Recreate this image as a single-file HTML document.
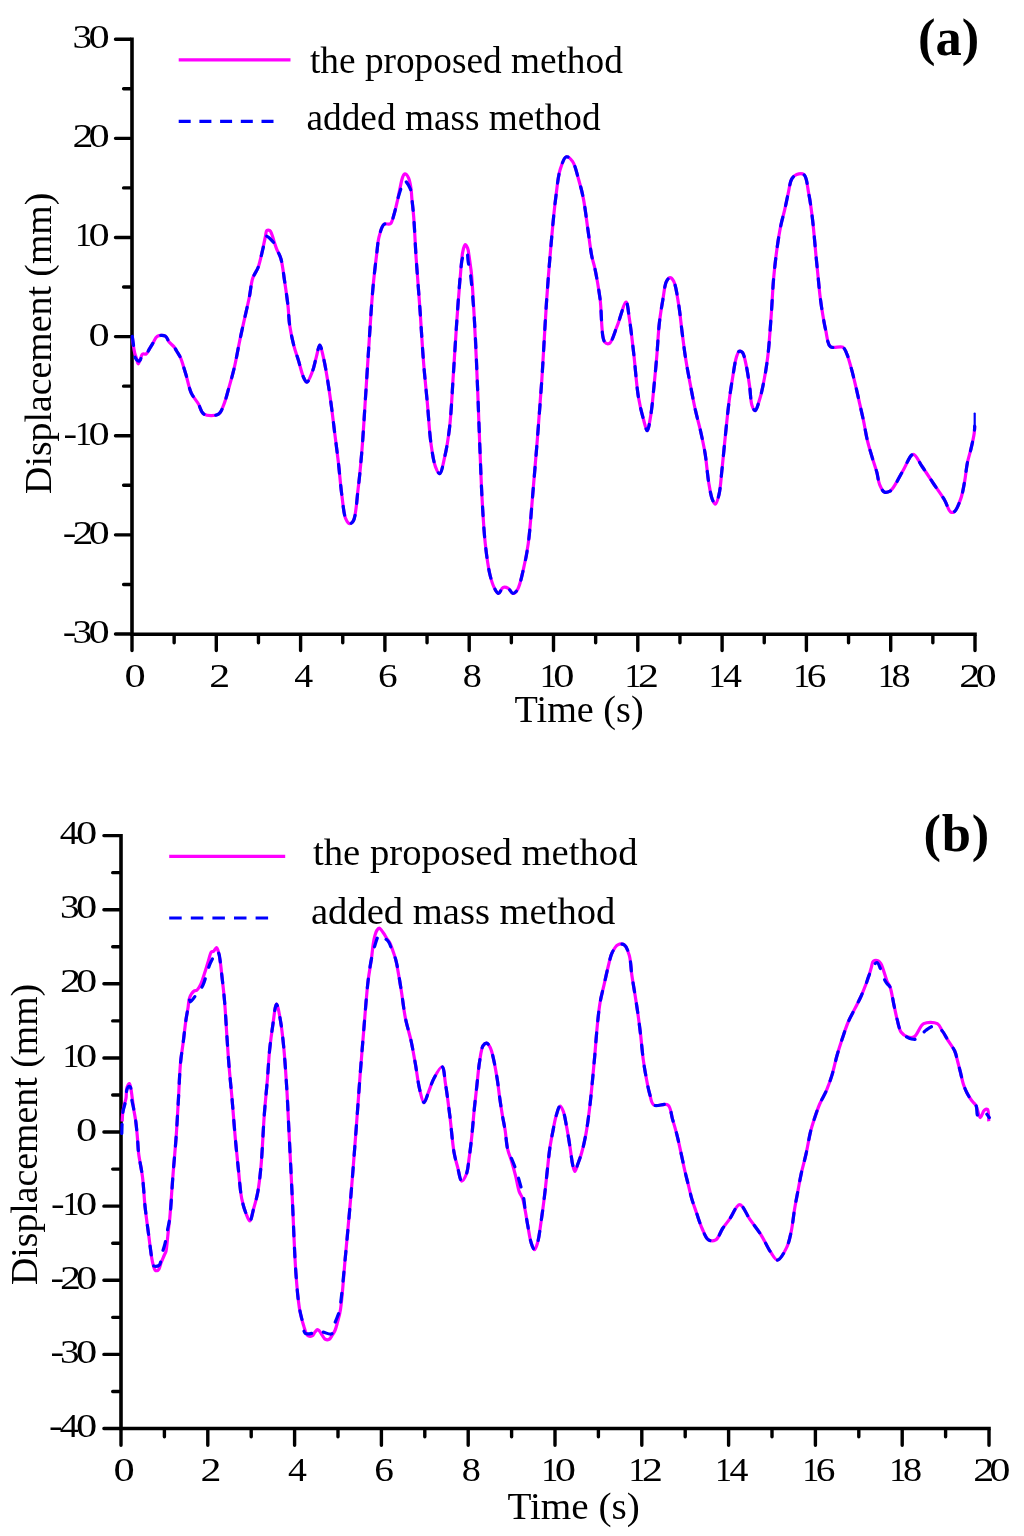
<!DOCTYPE html>
<html><head><meta charset="utf-8"><style>html,body{margin:0;padding:0;background:#fff;}svg{display:block;will-change:transform;}</style></head>
<body><svg width="1024" height="1536" viewBox="0 0 1024 1536">
<rect width="1024" height="1536" fill="#fff"/>
<line x1="132.0" y1="37.4" x2="132.0" y2="636.0" stroke="#000" stroke-width="3.6"/>
<line x1="132.0" y1="634.2" x2="976.8" y2="634.2" stroke="#000" stroke-width="3.6"/>
<path d="M115.50 39.21H130.30M115.50 138.34H130.30M115.50 237.47H130.30M115.50 336.60H130.30M115.50 435.73H130.30M115.50 534.86H130.30M115.50 633.99H130.30M123.60 88.78H130.30M123.60 187.91H130.30M123.60 287.04H130.30M123.60 386.17H130.30M123.60 485.30H130.30M123.60 584.43H130.30M132.00 635.90V650.60M174.15 635.90V642.80M216.30 635.90V650.60M258.45 635.90V642.80M300.60 635.90V650.60M342.75 635.90V642.80M384.90 635.90V650.60M427.05 635.90V642.80M469.20 635.90V650.60M511.35 635.90V642.80M553.50 635.90V650.60M595.65 635.90V642.80M637.80 635.90V650.60M679.95 635.90V642.80M722.10 635.90V650.60M764.25 635.90V642.80M806.40 635.90V650.60M848.55 635.90V642.80M890.70 635.90V650.60M932.85 635.90V642.80M975.00 635.90V650.60" stroke="#000" stroke-width="3.4" stroke-linecap="round" fill="none"/>
<text transform="translate(72.42,48.21) scale(1.1742,1)" font-family="'Liberation Serif', serif" font-size="33.4">3</text>
<text transform="translate(88.48,48.21) scale(1.2716,1)" font-family="'Liberation Serif', serif" font-size="33.4">0</text>
<text transform="translate(72.46,147.34) scale(1.2547,1)" font-family="'Liberation Serif', serif" font-size="33.4">2</text>
<text transform="translate(88.48,147.34) scale(1.2716,1)" font-family="'Liberation Serif', serif" font-size="33.4">0</text>
<text transform="translate(74.90,246.47) scale(1.0205,1)" font-family="'Liberation Serif', serif" font-size="33.4">1</text>
<text transform="translate(88.48,246.47) scale(1.2716,1)" font-family="'Liberation Serif', serif" font-size="33.4">0</text>
<text transform="translate(88.48,345.60) scale(1.2716,1)" font-family="'Liberation Serif', serif" font-size="33.4">0</text>
<text transform="translate(63.39,444.73) scale(1.2217,1)" font-family="'Liberation Serif', serif" font-size="33.4">-</text>
<text transform="translate(74.90,444.73) scale(1.0205,1)" font-family="'Liberation Serif', serif" font-size="33.4">1</text>
<text transform="translate(88.48,444.73) scale(1.2716,1)" font-family="'Liberation Serif', serif" font-size="33.4">0</text>
<text transform="translate(62.79,543.86) scale(1.2217,1)" font-family="'Liberation Serif', serif" font-size="33.4">-</text>
<text transform="translate(72.46,543.86) scale(1.2547,1)" font-family="'Liberation Serif', serif" font-size="33.4">2</text>
<text transform="translate(88.48,543.86) scale(1.2716,1)" font-family="'Liberation Serif', serif" font-size="33.4">0</text>
<text transform="translate(62.79,642.99) scale(1.2217,1)" font-family="'Liberation Serif', serif" font-size="33.4">-</text>
<text transform="translate(72.42,642.99) scale(1.1742,1)" font-family="'Liberation Serif', serif" font-size="33.4">3</text>
<text transform="translate(88.48,642.99) scale(1.2716,1)" font-family="'Liberation Serif', serif" font-size="33.4">0</text>
<text transform="translate(124.48,687.00) scale(1.2716,1)" font-family="'Liberation Serif', serif" font-size="33.4">0</text>
<text transform="translate(209.16,687.00) scale(1.2547,1)" font-family="'Liberation Serif', serif" font-size="33.4">2</text>
<text transform="translate(294.16,687.00) scale(1.1336,1)" font-family="'Liberation Serif', serif" font-size="33.4">4</text>
<text transform="translate(377.91,687.00) scale(1.1773,1)" font-family="'Liberation Serif', serif" font-size="33.4">6</text>
<text transform="translate(462.74,687.00) scale(1.1444,1)" font-family="'Liberation Serif', serif" font-size="33.4">8</text>
<text transform="translate(539.70,687.00) scale(1.0205,1)" font-family="'Liberation Serif', serif" font-size="33.4">1</text>
<text transform="translate(553.28,687.00) scale(1.2716,1)" font-family="'Liberation Serif', serif" font-size="33.4">0</text>
<text transform="translate(624.60,687.00) scale(1.0205,1)" font-family="'Liberation Serif', serif" font-size="33.4">1</text>
<text transform="translate(637.96,687.00) scale(1.2547,1)" font-family="'Liberation Serif', serif" font-size="33.4">2</text>
<text transform="translate(708.50,687.00) scale(1.0205,1)" font-family="'Liberation Serif', serif" font-size="33.4">1</text>
<text transform="translate(722.96,687.00) scale(1.1336,1)" font-family="'Liberation Serif', serif" font-size="33.4">4</text>
<text transform="translate(793.20,687.00) scale(1.0205,1)" font-family="'Liberation Serif', serif" font-size="33.4">1</text>
<text transform="translate(806.71,687.00) scale(1.1773,1)" font-family="'Liberation Serif', serif" font-size="33.4">6</text>
<text transform="translate(877.80,687.00) scale(1.0205,1)" font-family="'Liberation Serif', serif" font-size="33.4">1</text>
<text transform="translate(891.54,687.00) scale(1.1444,1)" font-family="'Liberation Serif', serif" font-size="33.4">8</text>
<text transform="translate(959.36,687.00) scale(1.2547,1)" font-family="'Liberation Serif', serif" font-size="33.4">2</text>
<text transform="translate(975.38,687.00) scale(1.2716,1)" font-family="'Liberation Serif', serif" font-size="33.4">0</text>
<text x="579.1" y="722" text-anchor="middle" font-family="'Liberation Serif', serif" font-size="38.2">Time (s)</text>
<text transform="translate(50.7,343.3) rotate(-90)" text-anchor="middle" font-family="'Liberation Serif', serif" font-size="37.8">Displacement (mm)</text>
<line x1="178.7" y1="59.8" x2="290.5" y2="59.8" stroke="#f0f" stroke-width="3.2"/>
<line x1="178.7" y1="121.4" x2="275" y2="121.4" stroke="#00f" stroke-width="3.2" stroke-dasharray="12 8.7"/>
<text x="310" y="72.6" font-family="'Liberation Serif', serif" font-size="37.3">the proposed method</text>
<text x="306.5" y="130.3" font-family="'Liberation Serif', serif" font-size="37.3">added mass method</text>
<text x="948.6" y="54.8" text-anchor="middle" font-family="'Liberation Serif', serif" font-size="52.5" font-weight="bold">(a)</text>
<path d="M132.30,336.40C132.45,337.77 132.80,341.87 133.20,344.60C133.60,347.34 134.09,350.38 134.70,352.80C135.20,354.78 135.83,356.29 136.40,358.10C137.00,359.99 137.50,363.86 138.20,363.90C138.88,363.94 139.75,360.39 140.50,358.70C141.21,357.09 141.51,354.71 142.60,354.00C143.50,353.42 145.06,354.56 146.10,354.00C147.50,353.25 148.45,350.53 149.60,348.70C150.79,346.80 151.87,344.80 153.10,342.80C154.40,340.70 155.21,337.53 157.20,336.40C159.26,335.22 163.42,335.05 165.40,336.10C167.17,337.04 167.50,339.93 168.90,341.70C170.40,343.58 172.85,345.28 174.20,347.00C175.26,348.36 175.70,349.47 176.60,351.00C177.79,353.03 179.56,355.54 180.70,358.10C181.92,360.82 182.69,364.05 183.60,366.90C184.45,369.57 185.06,371.55 186.00,374.70C187.44,379.53 188.93,387.96 191.30,393.10C193.23,397.29 196.17,400.12 198.30,403.70C200.36,407.16 200.83,412.36 203.90,414.20C207.30,416.24 215.15,416.18 218.50,414.20C221.40,412.49 222.21,408.38 223.80,404.60C225.86,399.71 227.38,393.01 229.10,387.00C230.89,380.73 232.66,374.66 234.30,367.70C236.20,359.62 237.88,349.51 239.60,341.30C241.10,334.11 242.46,328.11 244.00,321.10C245.68,313.49 247.78,304.83 249.30,297.30C250.66,290.54 251.01,283.35 252.80,278.00C254.19,273.85 256.54,271.71 258.10,267.50C260.22,261.78 261.95,252.28 263.30,246.40C264.26,242.21 264.94,238.51 265.60,235.60C266.05,233.61 265.88,231.33 266.80,230.60C267.52,230.03 269.08,230.10 269.90,230.60C270.87,231.19 271.27,232.96 271.90,234.50C272.74,236.55 273.41,239.47 274.20,241.90C274.97,244.27 275.62,246.39 276.60,248.90C277.78,251.92 279.72,254.73 280.90,258.70C282.57,264.32 283.28,272.37 284.40,279.80C285.65,288.08 287.09,297.99 288.00,306.10C288.78,313.05 288.73,318.93 289.70,325.50C290.72,332.42 292.46,340.32 294.10,346.60C295.45,351.78 296.98,355.70 298.50,360.60C300.17,366.01 301.85,373.93 303.70,377.70C304.73,379.80 305.76,382.28 306.90,382.20C308.58,382.08 310.90,375.37 312.40,371.50C314.02,367.32 314.85,362.36 316.10,357.90C317.32,353.56 318.57,345.10 319.80,345.10C321.03,345.10 322.37,353.14 323.50,357.90C324.89,363.75 326.03,370.72 327.20,377.70C328.51,385.49 329.72,393.86 330.90,402.50C332.19,411.92 333.37,422.22 334.60,432.10C335.83,441.99 337.11,451.51 338.30,461.80C339.58,472.91 340.60,486.24 342.00,496.50C343.13,504.74 343.70,514.08 345.70,518.70C346.75,521.14 348.13,523.47 349.50,523.70C350.66,523.89 352.14,522.88 353.20,521.20C356.07,516.66 356.70,500.13 358.10,489.00C359.60,477.09 360.66,465.46 361.80,451.90C363.17,435.51 364.28,415.84 365.50,397.50C366.75,378.75 367.94,359.14 369.20,340.60C370.41,322.87 371.49,304.16 372.90,288.60C374.05,275.88 375.51,263.55 376.70,254.00C377.54,247.24 377.71,241.91 379.10,236.70C380.32,232.14 381.62,226.12 384.10,224.30C385.79,223.06 388.72,224.97 390.30,223.80C392.32,222.30 392.87,217.96 394.00,214.40C395.42,209.94 396.72,203.79 397.80,199.00C398.74,194.84 399.38,191.01 400.20,187.30C400.95,183.91 401.57,180.00 402.50,177.60C403.10,176.06 403.69,174.35 404.50,174.00C405.06,173.76 405.81,174.06 406.40,174.50C407.29,175.17 408.12,176.92 408.75,178.40C409.47,180.10 409.88,182.16 410.30,184.20C410.75,186.41 411.04,188.80 411.30,191.20C411.58,193.73 411.62,195.87 411.90,199.00C412.32,203.75 413.12,209.67 413.70,216.90C414.58,227.97 415.22,244.41 416.20,259.00C417.26,274.81 418.70,291.53 419.90,308.40C421.16,326.12 422.25,346.19 423.60,362.90C424.75,377.16 426.07,389.10 427.30,402.50C428.57,416.29 429.41,432.73 431.10,444.50C432.34,453.14 433.48,461.61 435.50,466.80C436.70,469.90 438.41,473.87 439.70,473.70C441.60,473.45 443.22,463.35 444.70,456.90C446.65,448.45 448.27,438.51 449.60,427.20C451.35,412.31 452.09,392.93 453.30,375.20C454.56,356.66 455.68,336.59 457.00,318.30C458.23,301.25 460.04,278.13 460.90,268.90C461.23,265.30 461.43,264.00 461.70,261.40C461.99,258.58 462.01,255.43 462.60,252.60C463.17,249.87 464.08,244.86 465.10,244.70C465.84,244.58 466.97,246.74 467.60,248.20C468.42,250.12 468.58,252.95 469.00,255.50C469.46,258.29 469.80,261.37 470.20,264.30C470.60,267.23 470.99,269.02 471.40,273.10C472.32,282.32 473.37,301.45 474.30,318.30C475.48,339.64 476.74,368.36 477.70,390.90C478.53,410.53 479.05,427.63 479.80,446.00C480.55,464.37 481.20,483.90 482.20,501.10C483.08,516.27 483.85,530.85 485.30,543.90C486.53,554.98 487.95,566.37 489.90,574.50C491.24,580.07 492.70,584.91 494.50,588.30C495.71,590.58 497.12,593.51 498.50,593.50C499.98,593.49 501.27,588.13 503.10,587.40C504.63,586.80 506.75,587.44 508.30,588.30C510.08,589.29 511.31,593.37 512.90,593.50C514.35,593.62 516.05,591.85 517.40,589.80C520.04,585.79 521.83,575.82 523.60,568.40C525.47,560.55 526.86,553.50 528.20,543.90C530.08,530.42 531.23,511.79 532.70,495.00C534.26,477.18 535.80,458.75 537.30,439.90C538.88,420.04 540.44,400.24 541.90,378.70C543.53,354.63 544.85,325.95 546.50,302.20C547.94,281.47 549.47,262.24 551.10,244.00C552.55,227.78 553.95,211.63 555.70,198.10C557.10,187.31 557.91,176.59 560.30,169.10C561.93,163.98 563.97,157.37 566.40,156.80C568.21,156.37 570.75,158.97 572.50,161.40C575.29,165.27 576.89,173.64 578.70,179.80C580.48,185.87 581.93,191.18 583.30,198.10C585.06,206.96 586.35,218.76 587.80,228.70C589.18,238.14 590.34,248.98 591.80,256.30C592.78,261.22 593.84,263.49 594.90,268.50C596.57,276.37 598.57,288.01 600.10,299.10C601.91,312.17 600.89,337.29 604.70,342.00C605.98,343.58 607.85,344.14 609.30,343.50C612.14,342.25 614.35,332.87 616.90,326.70C619.94,319.35 624.01,302.03 626.10,302.20C627.72,302.33 628.18,311.28 629.20,317.50C630.77,327.08 632.32,341.49 633.80,354.20C635.40,367.91 636.40,385.01 638.40,397.00C639.88,405.84 641.88,413.62 643.60,419.80C644.81,424.13 646.09,430.75 647.20,430.70C648.52,430.64 649.77,421.06 650.80,415.00C652.18,406.86 653.00,395.93 654.00,386.10C655.04,375.88 656.02,365.24 656.90,354.80C657.78,344.37 658.20,333.23 659.30,323.50C660.27,314.92 661.60,306.84 662.90,299.40C664.03,292.92 664.59,284.88 666.50,281.30C667.50,279.42 668.90,277.70 670.10,277.70C671.30,277.70 672.64,279.35 673.70,281.30C675.97,285.48 677.23,296.09 678.60,304.20C680.13,313.24 680.97,323.68 682.20,333.10C683.38,342.13 684.40,350.78 685.80,359.60C687.20,368.45 688.96,377.48 690.60,386.10C692.16,394.33 693.71,402.63 695.40,410.20C696.92,417.01 698.66,422.70 700.20,429.50C701.91,437.05 703.72,445.10 705.10,453.50C706.60,462.66 707.30,474.08 708.70,482.40C709.78,488.81 710.72,495.48 712.30,499.30C713.21,501.50 714.43,504.21 715.40,504.10C716.71,503.96 718.03,498.50 719.00,494.50C720.50,488.35 720.93,479.25 721.90,470.40C723.09,459.58 724.26,446.13 725.50,434.30C726.70,422.84 727.87,410.79 729.20,400.50C730.33,391.80 731.53,384.05 732.80,376.50C733.94,369.71 734.91,361.74 736.40,357.20C737.27,354.56 738.04,351.70 739.30,351.20C740.19,350.85 741.51,351.44 742.40,352.40C744.13,354.27 744.93,359.77 746.00,364.40C747.42,370.53 748.58,379.07 749.60,386.10C750.56,392.71 750.50,401.08 752.00,405.40C752.84,407.84 754.15,410.78 755.20,410.70C756.60,410.59 758.09,404.24 759.30,400.50C760.71,396.16 761.73,391.76 762.90,386.10C764.55,378.15 766.38,367.84 767.70,357.20C769.31,344.23 770.27,327.61 771.30,313.80C772.24,301.22 772.65,289.29 773.70,277.70C774.68,266.88 775.95,255.86 777.30,246.40C778.43,238.49 779.64,231.18 781.00,224.70C782.12,219.36 783.44,215.22 784.60,210.20C785.84,204.82 786.96,198.78 788.20,193.40C789.36,188.38 789.85,182.13 791.80,178.90C793.08,176.78 794.67,175.34 796.60,174.60C798.66,173.81 802.02,173.14 803.90,174.60C806.97,176.98 807.35,186.71 808.70,193.40C810.21,200.90 811.18,208.37 812.30,217.50C813.77,229.43 815.20,247.77 816.30,258.90C817.04,266.42 817.57,271.51 818.20,277.80C818.83,284.08 819.32,290.33 820.10,296.60C820.88,302.90 821.89,309.56 822.90,315.50C823.81,320.83 824.57,325.52 825.80,330.60C827.08,335.91 827.20,344.12 830.50,346.70C833.33,348.91 840.08,345.62 842.80,347.20C844.87,348.41 845.42,350.72 846.60,353.30C848.35,357.13 849.81,363.06 851.30,368.40C852.96,374.32 854.55,381.17 856.00,387.30C857.37,393.08 858.54,398.56 859.80,404.20C861.07,409.86 862.38,415.37 863.60,421.20C864.88,427.32 865.84,434.00 867.30,440.10C868.70,445.95 870.47,451.61 872.10,457.10C873.64,462.29 875.51,467.40 876.80,472.20C877.95,476.49 878.16,481.01 879.60,484.50C880.81,487.43 882.30,491.09 884.30,492.00C885.92,492.74 888.34,492.05 890.00,491.10C891.88,490.03 893.02,487.85 894.70,485.40C897.27,481.65 900.19,475.37 903.20,470.30C906.34,465.01 909.88,454.42 913.20,454.30C916.17,454.19 919.01,462.06 922.10,466.50C925.70,471.66 929.62,477.84 933.40,483.50C937.19,489.17 941.80,495.32 944.80,500.50C947.16,504.57 948.25,510.47 950.40,511.80C951.58,512.53 952.98,512.55 954.20,511.80C956.60,510.32 959.10,503.39 960.80,498.60C962.65,493.39 963.52,487.43 964.60,481.60C965.73,475.51 966.22,468.62 967.40,462.80C968.44,457.65 969.98,453.28 971.10,448.40C972.25,443.42 973.64,437.31 974.20,433.20C974.58,430.43 974.62,427.37 974.70,426.20" fill="none" stroke="#f0f" stroke-width="3.2" stroke-linejoin="round"/>
<path d="M132.30,336.40C132.55,338.17 133.27,343.43 133.80,347.00C134.34,350.66 134.05,355.75 135.50,358.10C136.47,359.67 138.48,361.32 139.60,361.00C140.98,360.61 141.17,354.94 142.60,354.00C143.57,353.36 145.06,354.56 146.10,354.00C147.50,353.25 148.45,350.53 149.60,348.70C150.79,346.80 151.87,344.80 153.10,342.80C154.40,340.70 155.21,337.53 157.20,336.40C159.26,335.22 163.42,335.05 165.40,336.10C167.17,337.04 167.50,339.93 168.90,341.70C170.40,343.58 172.85,345.28 174.20,347.00C175.26,348.36 175.70,349.47 176.60,351.00C177.79,353.03 179.56,355.54 180.70,358.10C181.92,360.82 182.69,364.05 183.60,366.90C184.45,369.57 185.06,371.55 186.00,374.70C187.44,379.53 188.93,387.96 191.30,393.10C193.23,397.29 196.17,400.12 198.30,403.70C200.36,407.16 200.83,412.36 203.90,414.20C207.30,416.24 215.15,416.18 218.50,414.20C221.40,412.49 222.21,408.38 223.80,404.60C225.86,399.71 227.38,393.01 229.10,387.00C230.89,380.73 232.66,374.66 234.30,367.70C236.20,359.62 237.88,349.51 239.60,341.30C241.10,334.11 242.46,328.11 244.00,321.10C245.68,313.49 247.78,304.83 249.30,297.30C250.66,290.54 251.01,283.35 252.80,278.00C254.19,273.85 256.53,271.67 258.10,267.50C260.19,261.95 261.81,253.03 263.30,247.30C264.40,243.05 264.41,236.80 266.20,236.20C267.66,235.71 270.74,239.40 272.20,240.90C273.24,241.97 273.81,242.80 274.50,244.00C275.31,245.41 275.77,246.99 276.60,248.90C277.77,251.61 279.72,254.73 280.90,258.70C282.57,264.32 283.28,272.37 284.40,279.80C285.65,288.08 287.09,297.99 288.00,306.10C288.78,313.05 288.73,318.93 289.70,325.50C290.72,332.42 292.46,340.32 294.10,346.60C295.45,351.78 296.98,355.70 298.50,360.60C300.17,366.01 301.85,373.93 303.70,377.70C304.73,379.80 305.76,382.28 306.90,382.20C308.58,382.08 310.90,375.37 312.40,371.50C314.02,367.32 314.85,362.36 316.10,357.90C317.32,353.56 318.57,345.10 319.80,345.10C321.03,345.10 322.37,353.14 323.50,357.90C324.89,363.75 326.03,370.72 327.20,377.70C328.51,385.49 329.72,393.86 330.90,402.50C332.19,411.92 333.37,422.22 334.60,432.10C335.83,441.99 337.11,451.51 338.30,461.80C339.58,472.91 340.60,486.24 342.00,496.50C343.13,504.74 343.70,514.08 345.70,518.70C346.75,521.14 348.13,523.47 349.50,523.70C350.66,523.89 352.14,522.88 353.20,521.20C356.07,516.66 356.70,500.13 358.10,489.00C359.60,477.09 360.66,465.46 361.80,451.90C363.17,435.51 364.28,415.84 365.50,397.50C366.75,378.75 367.94,359.14 369.20,340.60C370.41,322.87 371.49,304.16 372.90,288.60C374.05,275.88 375.51,263.55 376.70,254.00C377.54,247.24 377.71,241.91 379.10,236.70C380.32,232.14 381.62,226.12 384.10,224.30C385.79,223.06 388.72,224.97 390.30,223.80C392.32,222.30 392.87,217.96 394.00,214.40C395.42,209.94 396.59,203.44 397.80,199.00C398.73,195.59 399.45,193.02 400.50,190.00C401.60,186.85 402.67,180.70 404.30,180.50C405.94,180.30 409.03,185.81 410.30,188.90C411.56,191.98 411.40,195.15 411.90,199.00C412.56,204.11 413.12,209.67 413.70,216.90C414.58,227.97 415.22,244.41 416.20,259.00C417.26,274.81 418.70,291.53 419.90,308.40C421.16,326.12 422.25,346.19 423.60,362.90C424.75,377.16 426.07,389.10 427.30,402.50C428.57,416.29 429.41,432.73 431.10,444.50C432.34,453.14 433.48,461.61 435.50,466.80C436.70,469.90 438.41,473.87 439.70,473.70C441.60,473.45 443.22,463.35 444.70,456.90C446.65,448.45 448.27,438.51 449.60,427.20C451.35,412.31 452.09,392.93 453.30,375.20C454.56,356.66 455.68,336.59 457.00,318.30C458.23,301.25 459.71,279.41 460.90,268.90C461.46,263.94 461.35,261.06 462.50,258.00C463.47,255.43 465.75,251.29 466.70,251.50C467.81,251.74 467.61,258.53 468.20,262.00C468.78,265.43 469.54,267.55 470.20,272.20C471.59,282.01 473.14,301.18 474.30,318.30C475.76,339.75 476.74,368.36 477.70,390.90C478.53,410.53 479.05,427.63 479.80,446.00C480.55,464.37 481.20,483.90 482.20,501.10C483.08,516.27 483.85,530.85 485.30,543.90C486.53,554.98 487.95,566.37 489.90,574.50C491.24,580.07 492.70,584.91 494.50,588.30C495.71,590.58 497.12,593.51 498.50,593.50C499.98,593.49 501.27,588.13 503.10,587.40C504.63,586.80 506.75,587.44 508.30,588.30C510.08,589.29 511.31,593.37 512.90,593.50C514.35,593.62 516.05,591.85 517.40,589.80C520.04,585.79 521.83,575.82 523.60,568.40C525.47,560.55 526.86,553.50 528.20,543.90C530.08,530.42 531.23,511.79 532.70,495.00C534.26,477.18 535.80,458.75 537.30,439.90C538.88,420.04 540.44,400.24 541.90,378.70C543.53,354.63 544.85,325.95 546.50,302.20C547.94,281.47 549.47,262.24 551.10,244.00C552.55,227.78 553.95,211.63 555.70,198.10C557.10,187.31 557.91,176.59 560.30,169.10C561.93,163.98 563.97,157.37 566.40,156.80C568.21,156.37 570.75,158.97 572.50,161.40C575.29,165.27 576.89,173.64 578.70,179.80C580.48,185.87 581.93,191.18 583.30,198.10C585.06,206.96 586.35,218.76 587.80,228.70C589.18,238.14 590.34,248.98 591.80,256.30C592.78,261.22 593.84,263.49 594.90,268.50C596.57,276.37 598.57,288.01 600.10,299.10C601.91,312.17 600.89,337.29 604.70,342.00C605.98,343.58 607.85,344.14 609.30,343.50C612.14,342.25 614.35,332.87 616.90,326.70C619.94,319.35 624.01,302.03 626.10,302.20C627.72,302.33 628.18,311.28 629.20,317.50C630.77,327.08 632.32,341.49 633.80,354.20C635.40,367.91 636.40,385.01 638.40,397.00C639.88,405.84 641.88,413.62 643.60,419.80C644.81,424.13 646.09,430.75 647.20,430.70C648.52,430.64 649.77,421.06 650.80,415.00C652.18,406.86 653.00,395.93 654.00,386.10C655.04,375.88 656.02,365.24 656.90,354.80C657.78,344.37 658.20,333.23 659.30,323.50C660.27,314.92 661.60,306.84 662.90,299.40C664.03,292.92 664.59,284.88 666.50,281.30C667.50,279.42 668.90,277.70 670.10,277.70C671.30,277.70 672.64,279.35 673.70,281.30C675.97,285.48 677.23,296.09 678.60,304.20C680.13,313.24 680.97,323.68 682.20,333.10C683.38,342.13 684.40,350.78 685.80,359.60C687.20,368.45 688.96,377.48 690.60,386.10C692.16,394.33 693.71,402.63 695.40,410.20C696.92,417.01 698.66,422.70 700.20,429.50C701.91,437.05 703.72,445.10 705.10,453.50C706.60,462.66 707.30,474.08 708.70,482.40C709.78,488.81 710.72,495.48 712.30,499.30C713.21,501.50 714.43,504.21 715.40,504.10C716.71,503.96 718.03,498.50 719.00,494.50C720.50,488.35 720.93,479.25 721.90,470.40C723.09,459.58 724.26,446.13 725.50,434.30C726.70,422.84 727.87,410.79 729.20,400.50C730.33,391.80 731.53,384.05 732.80,376.50C733.94,369.71 734.91,361.74 736.40,357.20C737.27,354.56 738.04,351.70 739.30,351.20C740.19,350.85 741.51,351.44 742.40,352.40C744.13,354.27 744.93,359.77 746.00,364.40C747.42,370.53 748.58,379.07 749.60,386.10C750.56,392.71 750.50,401.08 752.00,405.40C752.84,407.84 754.15,410.78 755.20,410.70C756.60,410.59 758.09,404.24 759.30,400.50C760.71,396.16 761.73,391.76 762.90,386.10C764.55,378.15 766.38,367.84 767.70,357.20C769.31,344.23 770.27,327.61 771.30,313.80C772.24,301.22 772.65,289.29 773.70,277.70C774.68,266.88 775.95,255.86 777.30,246.40C778.43,238.49 779.64,231.18 781.00,224.70C782.12,219.36 783.44,215.22 784.60,210.20C785.84,204.82 786.96,198.78 788.20,193.40C789.36,188.38 789.85,182.13 791.80,178.90C793.08,176.78 794.67,175.34 796.60,174.60C798.66,173.81 802.02,173.14 803.90,174.60C806.97,176.98 807.35,186.71 808.70,193.40C810.21,200.90 811.18,208.37 812.30,217.50C813.77,229.43 815.20,247.77 816.30,258.90C817.04,266.42 817.57,271.51 818.20,277.80C818.83,284.08 819.32,290.33 820.10,296.60C820.88,302.90 821.89,309.56 822.90,315.50C823.81,320.83 824.57,325.52 825.80,330.60C827.08,335.91 827.20,344.12 830.50,346.70C833.33,348.91 840.08,345.62 842.80,347.20C844.87,348.41 845.42,350.72 846.60,353.30C848.35,357.13 849.81,363.06 851.30,368.40C852.96,374.32 854.55,381.17 856.00,387.30C857.37,393.08 858.54,398.56 859.80,404.20C861.07,409.86 862.38,415.37 863.60,421.20C864.88,427.32 865.84,434.00 867.30,440.10C868.70,445.95 870.47,451.61 872.10,457.10C873.64,462.29 875.51,467.40 876.80,472.20C877.95,476.49 878.16,481.01 879.60,484.50C880.81,487.43 882.30,491.09 884.30,492.00C885.92,492.74 888.34,492.05 890.00,491.10C891.88,490.03 893.02,487.85 894.70,485.40C897.27,481.65 900.19,475.37 903.20,470.30C906.34,465.01 909.88,454.42 913.20,454.30C916.17,454.19 919.01,462.06 922.10,466.50C925.70,471.66 929.62,477.84 933.40,483.50C937.19,489.17 941.80,495.32 944.80,500.50C947.16,504.57 948.25,510.47 950.40,511.80C951.58,512.53 952.98,512.55 954.20,511.80C956.60,510.32 959.10,503.39 960.80,498.60C962.65,493.39 963.52,487.43 964.60,481.60C965.73,475.51 966.22,468.62 967.40,462.80C968.44,457.65 969.98,453.28 971.10,448.40C972.25,443.42 973.64,437.31 974.20,433.20C974.58,430.43 974.62,427.37 974.70,426.20" fill="none" stroke="#00f" stroke-width="3.2" stroke-linejoin="round" stroke-linecap="round" stroke-dasharray="9 12"/>
<line x1="974.7" y1="426.2" x2="974.7" y2="413.5" stroke="#00f" stroke-width="2.2" stroke-linecap="round"/>
<line x1="121.0" y1="834.0" x2="121.0" y2="1430.3" stroke="#000" stroke-width="3.6"/>
<line x1="121.0" y1="1428.5" x2="990.8" y2="1428.5" stroke="#000" stroke-width="3.6"/>
<path d="M103.90 835.60H119.30M103.90 909.71H119.30M103.90 983.82H119.30M103.90 1057.94H119.30M103.90 1132.05H119.30M103.90 1206.16H119.30M103.90 1280.28H119.30M103.90 1354.39H119.30M103.90 1428.50H119.30M112.70 872.65H119.30M112.70 946.77H119.30M112.70 1020.88H119.30M112.70 1094.99H119.30M112.70 1169.11H119.30M112.70 1243.22H119.30M112.70 1317.33H119.30M112.70 1391.45H119.30M121.00 1430.20V1445.30M164.40 1430.20V1436.80M207.80 1430.20V1445.30M251.20 1430.20V1436.80M294.60 1430.20V1445.30M338.00 1430.20V1436.80M381.40 1430.20V1445.30M424.80 1430.20V1436.80M468.20 1430.20V1445.30M511.60 1430.20V1436.80M555.00 1430.20V1445.30M598.40 1430.20V1436.80M641.80 1430.20V1445.30M685.20 1430.20V1436.80M728.60 1430.20V1445.30M772.00 1430.20V1436.80M815.40 1430.20V1445.30M858.80 1430.20V1436.80M902.20 1430.20V1445.30M945.60 1430.20V1436.80M989.00 1430.20V1445.30" stroke="#000" stroke-width="3.4" stroke-linecap="round" fill="none"/>
<text transform="translate(59.76,844.20) scale(1.1336,1)" font-family="'Liberation Serif', serif" font-size="33.4">4</text>
<text transform="translate(76.08,844.20) scale(1.2716,1)" font-family="'Liberation Serif', serif" font-size="33.4">0</text>
<text transform="translate(60.02,918.31) scale(1.1742,1)" font-family="'Liberation Serif', serif" font-size="33.4">3</text>
<text transform="translate(76.08,918.31) scale(1.2716,1)" font-family="'Liberation Serif', serif" font-size="33.4">0</text>
<text transform="translate(60.06,992.42) scale(1.2547,1)" font-family="'Liberation Serif', serif" font-size="33.4">2</text>
<text transform="translate(76.08,992.42) scale(1.2716,1)" font-family="'Liberation Serif', serif" font-size="33.4">0</text>
<text transform="translate(62.50,1066.54) scale(1.0205,1)" font-family="'Liberation Serif', serif" font-size="33.4">1</text>
<text transform="translate(76.08,1066.54) scale(1.2716,1)" font-family="'Liberation Serif', serif" font-size="33.4">0</text>
<text transform="translate(76.08,1140.65) scale(1.2716,1)" font-family="'Liberation Serif', serif" font-size="33.4">0</text>
<text transform="translate(50.99,1214.76) scale(1.2217,1)" font-family="'Liberation Serif', serif" font-size="33.4">-</text>
<text transform="translate(62.50,1214.76) scale(1.0205,1)" font-family="'Liberation Serif', serif" font-size="33.4">1</text>
<text transform="translate(76.08,1214.76) scale(1.2716,1)" font-family="'Liberation Serif', serif" font-size="33.4">0</text>
<text transform="translate(50.39,1288.88) scale(1.2217,1)" font-family="'Liberation Serif', serif" font-size="33.4">-</text>
<text transform="translate(60.06,1288.88) scale(1.2547,1)" font-family="'Liberation Serif', serif" font-size="33.4">2</text>
<text transform="translate(76.08,1288.88) scale(1.2716,1)" font-family="'Liberation Serif', serif" font-size="33.4">0</text>
<text transform="translate(50.39,1362.99) scale(1.2217,1)" font-family="'Liberation Serif', serif" font-size="33.4">-</text>
<text transform="translate(60.02,1362.99) scale(1.1742,1)" font-family="'Liberation Serif', serif" font-size="33.4">3</text>
<text transform="translate(76.08,1362.99) scale(1.2716,1)" font-family="'Liberation Serif', serif" font-size="33.4">0</text>
<text transform="translate(48.99,1437.10) scale(1.2217,1)" font-family="'Liberation Serif', serif" font-size="33.4">-</text>
<text transform="translate(59.76,1437.10) scale(1.1336,1)" font-family="'Liberation Serif', serif" font-size="33.4">4</text>
<text transform="translate(76.08,1437.10) scale(1.2716,1)" font-family="'Liberation Serif', serif" font-size="33.4">0</text>
<text transform="translate(113.38,1480.50) scale(1.2716,1)" font-family="'Liberation Serif', serif" font-size="33.4">0</text>
<text transform="translate(200.56,1480.50) scale(1.2547,1)" font-family="'Liberation Serif', serif" font-size="33.4">2</text>
<text transform="translate(288.06,1480.50) scale(1.1336,1)" font-family="'Liberation Serif', serif" font-size="33.4">4</text>
<text transform="translate(374.31,1480.50) scale(1.1773,1)" font-family="'Liberation Serif', serif" font-size="33.4">6</text>
<text transform="translate(461.64,1480.50) scale(1.1444,1)" font-family="'Liberation Serif', serif" font-size="33.4">8</text>
<text transform="translate(541.20,1480.50) scale(1.0205,1)" font-family="'Liberation Serif', serif" font-size="33.4">1</text>
<text transform="translate(554.78,1480.50) scale(1.2716,1)" font-family="'Liberation Serif', serif" font-size="33.4">0</text>
<text transform="translate(628.60,1480.50) scale(1.0205,1)" font-family="'Liberation Serif', serif" font-size="33.4">1</text>
<text transform="translate(641.96,1480.50) scale(1.2547,1)" font-family="'Liberation Serif', serif" font-size="33.4">2</text>
<text transform="translate(715.00,1480.50) scale(1.0205,1)" font-family="'Liberation Serif', serif" font-size="33.4">1</text>
<text transform="translate(729.46,1480.50) scale(1.1336,1)" font-family="'Liberation Serif', serif" font-size="33.4">4</text>
<text transform="translate(802.20,1480.50) scale(1.0205,1)" font-family="'Liberation Serif', serif" font-size="33.4">1</text>
<text transform="translate(815.71,1480.50) scale(1.1773,1)" font-family="'Liberation Serif', serif" font-size="33.4">6</text>
<text transform="translate(889.30,1480.50) scale(1.0205,1)" font-family="'Liberation Serif', serif" font-size="33.4">1</text>
<text transform="translate(903.04,1480.50) scale(1.1444,1)" font-family="'Liberation Serif', serif" font-size="33.4">8</text>
<text transform="translate(973.26,1480.50) scale(1.2547,1)" font-family="'Liberation Serif', serif" font-size="33.4">2</text>
<text transform="translate(989.28,1480.50) scale(1.2716,1)" font-family="'Liberation Serif', serif" font-size="33.4">0</text>
<text transform="translate(573.6,1519) scale(1.023,1)" text-anchor="middle" font-family="'Liberation Serif', serif" font-size="38.3">Time (s)</text>
<text transform="translate(36.8,1134.5) rotate(-90)" text-anchor="middle" font-family="'Liberation Serif', serif" font-size="37.8">Displacement (mm)</text>
<line x1="169.2" y1="856.3" x2="285.2" y2="856.3" stroke="#f0f" stroke-width="3.2"/>
<line x1="169.2" y1="918" x2="268.6" y2="918" stroke="#00f" stroke-width="3.2" stroke-dasharray="12.5 9.1"/>
<text x="313" y="864.5" font-family="'Liberation Serif', serif" font-size="38.7">the proposed method</text>
<text x="311" y="924.4" font-family="'Liberation Serif', serif" font-size="38.6">added mass method</text>
<text x="956.7" y="851.3" text-anchor="middle" font-family="'Liberation Serif', serif" font-size="52.5" font-weight="bold" letter-spacing="0.7">(b)</text>
<path d="M122.20,1121.50C122.28,1120.10 122.35,1115.90 122.70,1113.10C123.05,1110.26 123.70,1107.21 124.30,1104.60C124.82,1102.33 125.58,1100.69 126.00,1098.30C126.54,1095.24 126.05,1090.36 126.90,1087.70C127.48,1085.90 128.76,1083.42 129.40,1083.50C130.01,1083.57 130.32,1086.04 130.70,1087.70C131.23,1090.02 131.55,1093.08 132.00,1096.20C132.55,1100.01 133.07,1104.67 133.70,1108.90C134.33,1113.14 135.20,1117.05 135.80,1121.60C136.49,1126.82 137.02,1133.05 137.50,1138.50C137.95,1143.59 137.94,1147.80 138.60,1153.30C139.43,1160.29 141.45,1168.61 142.50,1177.00C143.68,1186.39 144.03,1197.03 145.10,1207.00C146.17,1216.96 147.73,1227.79 148.90,1236.80C149.87,1244.27 150.76,1252.29 151.60,1257.30C152.09,1260.22 152.41,1262.02 153.00,1264.20C153.56,1266.24 154.02,1269.03 155.00,1270.00C155.59,1270.58 156.47,1270.82 157.10,1270.70C157.73,1270.58 158.28,1270.05 158.80,1269.30C159.75,1267.95 160.34,1264.73 161.20,1262.50C162.05,1260.30 163.05,1258.00 163.90,1256.00C164.64,1254.28 165.49,1253.02 166.00,1251.20C166.61,1249.02 166.66,1246.58 167.00,1243.70C167.46,1239.82 167.92,1234.43 168.40,1230.00C168.85,1225.81 169.30,1223.11 169.80,1217.80C170.74,1207.84 171.90,1188.74 173.00,1174.80C174.04,1161.58 175.29,1148.90 176.20,1136.20C177.08,1123.84 177.68,1111.79 178.40,1099.60C179.12,1087.43 179.51,1073.65 180.50,1063.10C181.26,1054.98 182.40,1048.76 183.30,1041.60C184.20,1034.46 185.00,1026.31 185.90,1020.20C186.58,1015.59 187.38,1011.95 188.00,1008.10C188.57,1004.58 188.36,1000.96 189.50,998.00C190.54,995.30 192.68,991.89 194.20,990.90C195.01,990.37 195.80,991.02 196.60,990.50C198.04,989.56 199.67,986.42 200.90,983.90C202.34,980.97 203.23,977.36 204.40,973.80C205.70,969.86 207.06,965.17 208.30,961.30C209.38,957.94 210.07,953.08 211.40,951.90C212.00,951.36 212.74,951.91 213.40,951.50C214.44,950.87 215.63,947.47 216.50,947.60C217.47,947.74 218.18,951.20 218.80,953.40C219.56,956.12 219.91,959.34 220.40,962.80C221.00,967.02 221.45,971.97 222.00,976.90C222.61,982.35 223.37,988.66 223.90,994.10C224.38,999.00 224.70,1002.76 225.10,1008.10C225.63,1015.21 226.12,1024.31 226.70,1033.00C227.34,1042.56 227.96,1052.59 228.80,1063.10C229.73,1074.69 231.03,1087.25 232.10,1099.60C233.20,1112.31 234.18,1126.00 235.30,1138.30C236.32,1149.53 237.39,1160.15 238.50,1170.50C239.53,1180.16 240.14,1190.67 241.70,1198.50C242.86,1204.33 244.37,1209.42 246.00,1213.50C247.20,1216.50 248.74,1221.11 249.90,1221.00C251.30,1220.87 252.30,1213.52 253.50,1209.20C254.94,1204.02 256.62,1198.35 257.80,1192.00C259.23,1184.31 260.05,1176.29 261.00,1166.20C262.34,1151.99 263.11,1130.39 264.30,1114.70C265.30,1101.48 266.58,1089.56 267.50,1078.20C268.31,1068.25 268.67,1059.33 269.60,1050.20C270.49,1041.41 271.67,1032.48 272.90,1024.40C274.00,1017.19 275.17,1004.04 276.50,1004.00C277.69,1003.96 279.30,1014.15 280.40,1020.20C281.77,1027.75 282.64,1036.22 283.60,1045.90C284.84,1058.39 285.90,1074.56 286.80,1088.90C287.70,1103.23 288.20,1116.12 289.00,1131.90C289.97,1151.21 291.10,1173.89 292.20,1196.30C293.40,1220.77 294.39,1252.61 295.90,1273.10C296.91,1286.82 298.10,1299.43 299.30,1307.40C299.95,1311.71 300.53,1314.11 301.30,1317.30C302.04,1320.33 302.95,1323.31 303.80,1326.10C304.58,1328.66 305.26,1331.66 306.20,1333.40C306.81,1334.52 307.29,1335.46 308.20,1335.90C309.20,1336.38 311.01,1336.45 312.10,1335.90C313.32,1335.29 314.03,1333.13 315.00,1332.00C315.83,1331.04 316.70,1329.55 317.50,1329.50C318.16,1329.46 318.76,1330.30 319.40,1331.00C320.35,1332.03 321.30,1334.00 322.30,1335.40C323.27,1336.76 324.06,1338.69 325.30,1339.30C326.41,1339.85 328.11,1339.85 329.20,1339.30C330.42,1338.69 331.17,1336.80 332.10,1335.40C333.11,1333.88 334.16,1332.41 335.00,1330.50C336.03,1328.15 336.68,1325.25 337.50,1322.20C338.49,1318.54 339.49,1315.51 340.40,1310.00C342.24,1298.83 343.55,1276.68 345.20,1258.70C347.03,1238.78 349.10,1216.94 350.90,1195.70C352.74,1173.99 354.51,1150.72 356.10,1129.80C357.55,1110.80 358.76,1092.75 360.10,1075.40C361.33,1059.47 362.49,1045.10 363.80,1029.60C365.15,1013.61 366.54,993.90 368.10,980.90C369.14,972.17 370.49,965.78 371.40,959.10C372.17,953.44 372.60,947.72 373.30,943.40C373.80,940.34 374.24,937.90 374.90,935.60C375.45,933.70 375.95,931.80 376.80,930.50C377.47,929.49 378.40,928.22 379.20,928.20C379.97,928.18 380.77,929.39 381.50,930.20C382.36,931.16 383.07,932.41 383.90,933.70C384.89,935.23 385.95,937.16 387.00,938.80C388.02,940.39 389.16,941.56 390.10,943.40C391.31,945.76 392.35,949.26 393.30,952.00C394.16,954.47 394.79,955.87 395.60,959.10C397.25,965.67 399.45,979.51 401.10,989.50C402.70,999.17 403.61,1009.14 405.40,1018.10C407.01,1026.20 409.43,1033.33 411.10,1041.00C412.76,1048.63 414.00,1056.11 415.40,1064.00C416.87,1072.32 417.95,1082.65 419.70,1089.70C420.97,1094.79 422.48,1102.54 424.00,1102.60C425.36,1102.66 426.79,1096.24 428.30,1092.60C430.09,1088.27 431.63,1082.68 434.00,1078.30C436.27,1074.11 440.20,1066.40 442.10,1066.80C444.23,1067.25 444.40,1077.39 445.50,1084.00C446.99,1092.90 448.42,1104.55 449.80,1115.50C451.30,1127.40 452.40,1143.35 454.10,1152.80C455.16,1158.70 456.33,1162.29 457.60,1167.00C458.87,1171.72 459.94,1180.83 461.70,1181.10C463.04,1181.30 465.22,1176.99 466.40,1174.00C468.02,1169.90 468.27,1163.86 469.10,1158.20C470.06,1151.68 470.89,1144.64 471.70,1137.10C472.64,1128.41 473.38,1118.05 474.30,1109.00C475.16,1100.52 476.10,1092.45 477.00,1084.40C477.87,1076.63 478.45,1068.40 479.60,1061.50C480.57,1055.72 481.22,1048.60 483.10,1045.70C484.07,1044.20 485.49,1042.96 486.60,1043.10C487.87,1043.26 489.17,1045.53 490.20,1047.50C491.75,1050.46 492.63,1055.21 493.70,1059.80C495.02,1065.48 496.18,1072.65 497.20,1079.10C498.22,1085.55 498.89,1092.20 499.80,1098.50C500.66,1104.49 501.57,1110.49 502.50,1116.00C503.34,1120.96 504.29,1125.02 505.10,1130.10C506.04,1136.02 506.45,1143.97 507.70,1149.40C508.65,1153.51 510.01,1156.10 511.20,1160.00C512.64,1164.73 514.26,1170.52 515.60,1175.80C516.93,1181.05 517.72,1187.44 519.20,1191.60C520.23,1194.51 521.75,1195.94 522.70,1198.70C523.90,1202.18 524.47,1206.63 525.30,1211.00C526.24,1215.93 527.03,1221.54 528.00,1226.80C528.97,1232.07 529.72,1238.44 531.10,1242.60C532.06,1245.51 533.41,1249.72 534.50,1249.70C535.58,1249.68 536.69,1245.67 537.60,1242.60C539.11,1237.50 539.99,1228.94 541.10,1221.50C542.34,1213.20 543.55,1203.75 544.60,1195.10C545.61,1186.76 546.40,1178.54 547.30,1170.50C548.17,1162.75 548.85,1154.79 549.90,1147.70C550.83,1141.44 552.01,1135.63 553.10,1130.10C554.08,1125.13 554.81,1120.25 556.10,1116.00C557.22,1112.33 558.74,1106.12 560.10,1106.00C561.09,1105.91 562.22,1108.64 563.10,1110.80C564.60,1114.46 565.50,1120.94 566.60,1126.60C567.86,1133.11 569.03,1140.98 570.10,1147.70C571.08,1153.83 571.74,1160.99 572.80,1165.30C573.44,1167.90 574.11,1171.38 574.90,1171.40C575.81,1171.42 576.96,1166.33 578.00,1163.50C579.19,1160.26 580.44,1157.07 581.60,1153.00C583.15,1147.55 584.73,1140.48 586.00,1133.60C587.42,1125.91 588.48,1117.21 589.50,1109.00C590.52,1100.81 591.26,1092.88 592.10,1084.40C593.00,1075.35 593.85,1065.87 594.70,1056.30C595.59,1046.32 596.34,1035.14 597.30,1025.70C598.13,1017.53 598.78,1010.04 600.00,1002.90C601.10,996.46 602.73,990.77 604.10,984.70C605.47,978.63 606.77,972.12 608.20,966.50C609.45,961.59 610.26,956.63 612.10,952.80C613.63,949.62 615.49,945.99 617.80,944.80C619.67,943.84 622.45,943.70 624.20,944.80C626.55,946.27 627.96,950.96 629.20,955.10C630.87,960.66 630.87,968.59 631.90,975.60C632.99,983.01 634.49,991.22 635.60,998.40C636.59,1004.80 637.47,1010.53 638.30,1016.60C639.13,1022.66 639.83,1028.24 640.60,1034.80C641.50,1042.49 642.25,1052.22 643.30,1059.90C644.19,1066.47 645.19,1072.25 646.30,1078.10C647.34,1083.59 648.31,1089.23 649.70,1094.00C650.88,1098.05 651.04,1103.08 653.80,1105.00C656.83,1107.10 664.78,1102.74 667.90,1105.00C671.10,1107.32 671.02,1114.24 672.50,1119.10C674.06,1124.25 675.60,1129.58 677.00,1135.10C678.48,1140.95 679.77,1147.23 681.10,1153.30C682.43,1159.36 683.70,1165.87 685.00,1171.50C686.13,1176.40 687.27,1180.63 688.40,1185.20C689.53,1189.77 690.47,1194.37 691.80,1198.90C693.14,1203.47 694.76,1207.79 696.40,1212.50C698.18,1217.62 699.92,1223.70 702.10,1228.50C704.02,1232.71 705.72,1238.27 708.50,1239.90C710.57,1241.11 713.69,1241.10 715.80,1239.90C718.65,1238.28 720.24,1232.03 722.60,1228.50C724.79,1225.24 726.93,1222.82 729.40,1219.40C732.51,1215.09 736.28,1204.59 739.70,1204.60C743.11,1204.61 746.38,1214.39 749.90,1219.40C753.57,1224.62 757.83,1229.82 761.30,1235.30C764.75,1240.75 767.59,1247.75 770.70,1252.20C772.98,1255.47 775.13,1260.20 777.50,1260.10C780.38,1259.98 784.33,1252.24 786.60,1247.60C788.96,1242.78 789.93,1237.44 791.20,1231.60C792.69,1224.74 793.40,1216.05 794.60,1208.90C795.68,1202.46 796.85,1196.69 798.00,1190.60C799.15,1184.52 800.17,1178.45 801.50,1172.40C802.84,1166.32 804.56,1160.62 806.00,1154.20C807.61,1147.04 809.04,1137.67 810.60,1131.40C811.72,1126.92 812.66,1124.10 814.00,1120.00C815.60,1115.10 817.55,1109.05 819.70,1104.00C821.74,1099.22 824.46,1095.18 826.50,1090.40C828.65,1085.35 830.52,1079.95 832.20,1074.40C833.97,1068.57 835.09,1062.24 836.80,1056.20C838.52,1050.11 840.54,1043.85 842.50,1038.00C844.35,1032.48 846.05,1027.05 848.20,1022.00C850.24,1017.22 852.83,1012.73 855.00,1008.40C856.98,1004.43 858.88,1001.02 860.70,997.00C862.66,992.66 864.81,987.17 866.30,983.20C867.41,980.25 868.16,978.01 869.00,975.40C869.83,972.81 870.55,970.06 871.30,967.60C871.98,965.38 871.96,962.36 873.30,961.30C874.48,960.36 877.07,960.34 878.40,960.90C879.60,961.40 880.38,962.92 881.10,964.10C881.82,965.28 882.15,966.50 882.70,968.00C883.43,969.98 884.23,972.67 885.00,975.00C885.77,977.33 886.38,979.89 887.30,982.00C888.11,983.88 889.25,984.83 890.10,987.10C891.55,990.99 892.50,998.30 893.70,1003.80C894.87,1009.17 895.87,1014.74 897.20,1019.70C898.40,1024.17 899.08,1029.37 901.20,1032.30C902.81,1034.53 905.16,1036.07 907.40,1036.80C909.51,1037.49 912.02,1037.91 914.20,1036.80C917.57,1035.08 919.61,1025.79 923.70,1023.70C927.45,1021.79 934.13,1022.03 937.30,1023.70C939.86,1025.05 940.63,1028.41 942.30,1031.00C944.13,1033.84 945.85,1036.94 947.80,1040.10C949.95,1043.58 953.02,1047.23 954.70,1051.00C956.28,1054.55 956.81,1058.34 957.80,1062.00C958.78,1065.64 959.68,1069.26 960.60,1072.90C961.52,1076.56 962.18,1080.45 963.30,1083.90C964.34,1087.12 965.57,1090.19 967.00,1093.00C968.33,1095.63 969.90,1098.10 971.50,1100.30C972.95,1102.30 974.78,1103.39 976.10,1105.70C977.85,1108.77 978.66,1117.46 980.20,1117.60C981.45,1117.71 982.73,1111.53 984.30,1110.30C985.29,1109.52 986.72,1108.88 987.50,1109.40C988.97,1110.39 988.58,1119.23 988.80,1121.20" fill="none" stroke="#f0f" stroke-width="3.2" stroke-linejoin="round"/>
<path d="M121.80,1133.40C121.87,1131.42 121.97,1125.34 122.20,1121.50C122.42,1117.89 122.52,1114.42 123.10,1111.00C123.67,1107.65 124.97,1104.61 125.60,1101.20C126.27,1097.57 126.11,1092.41 126.90,1089.80C127.35,1088.32 127.88,1086.81 128.60,1086.50C129.10,1086.29 129.85,1086.46 130.30,1087.00C131.44,1088.37 130.92,1094.61 131.50,1098.30C132.06,1101.90 133.01,1105.20 133.70,1108.90C134.45,1112.93 135.20,1117.05 135.80,1121.60C136.49,1126.82 137.02,1133.05 137.50,1138.50C137.95,1143.59 137.94,1147.80 138.60,1153.30C139.43,1160.29 141.45,1168.61 142.50,1177.00C143.68,1186.39 144.03,1197.03 145.10,1207.00C146.17,1216.96 147.77,1228.05 148.90,1236.80C149.79,1243.70 150.60,1250.05 151.30,1255.30C151.82,1259.20 150.98,1264.07 152.70,1265.50C154.05,1266.63 157.58,1266.45 159.10,1265.20C161.15,1263.52 160.89,1257.56 161.90,1253.90C162.86,1250.40 164.11,1247.38 165.00,1243.70C166.02,1239.50 166.68,1234.43 167.50,1230.00C168.28,1225.81 169.10,1223.13 169.80,1217.80C171.10,1207.86 171.90,1188.74 173.00,1174.80C174.04,1161.58 175.29,1148.90 176.20,1136.20C177.08,1123.84 177.68,1111.79 178.40,1099.60C179.12,1087.43 179.51,1073.65 180.50,1063.10C181.26,1054.98 182.40,1048.76 183.30,1041.60C184.20,1034.46 185.00,1026.31 185.90,1020.20C186.58,1015.59 187.35,1011.73 188.00,1008.10C188.53,1005.13 188.98,1000.06 189.50,1000.00C189.76,999.97 189.82,1001.83 190.30,1001.90C191.36,1002.05 194.54,996.79 196.60,994.10C198.71,991.33 201.19,988.62 202.80,985.50C204.43,982.36 205.15,978.76 206.30,975.30C207.48,971.73 208.39,967.85 209.80,964.40C211.15,961.10 213.15,957.43 214.50,955.00C215.39,953.39 216.11,951.16 216.90,951.10C217.54,951.06 218.29,952.28 218.80,953.40C219.72,955.40 219.91,959.34 220.40,962.80C221.00,967.02 221.45,971.97 222.00,976.90C222.61,982.35 223.37,988.66 223.90,994.10C224.38,999.00 224.70,1002.76 225.10,1008.10C225.63,1015.21 226.12,1024.31 226.70,1033.00C227.34,1042.56 227.96,1052.59 228.80,1063.10C229.73,1074.69 231.03,1087.25 232.10,1099.60C233.20,1112.31 234.18,1126.00 235.30,1138.30C236.32,1149.53 237.39,1160.15 238.50,1170.50C239.53,1180.16 240.14,1190.67 241.70,1198.50C242.86,1204.33 244.37,1209.42 246.00,1213.50C247.20,1216.50 248.74,1221.11 249.90,1221.00C251.30,1220.87 252.30,1213.52 253.50,1209.20C254.94,1204.02 256.62,1198.35 257.80,1192.00C259.23,1184.31 260.05,1176.29 261.00,1166.20C262.34,1151.99 263.11,1130.39 264.30,1114.70C265.30,1101.48 266.58,1089.56 267.50,1078.20C268.31,1068.25 268.67,1059.33 269.60,1050.20C270.49,1041.41 271.67,1032.48 272.90,1024.40C274.00,1017.19 275.17,1004.04 276.50,1004.00C277.69,1003.96 279.30,1014.15 280.40,1020.20C281.77,1027.75 282.64,1036.22 283.60,1045.90C284.84,1058.39 285.90,1074.56 286.80,1088.90C287.70,1103.23 288.20,1116.12 289.00,1131.90C289.97,1151.21 291.10,1173.89 292.20,1196.30C293.40,1220.77 294.39,1252.61 295.90,1273.10C296.91,1286.82 297.81,1298.28 299.30,1307.40C300.30,1313.55 301.73,1318.06 302.80,1322.70C303.70,1326.59 303.15,1331.79 305.30,1333.40C307.27,1334.87 311.56,1333.15 314.50,1332.90C317.21,1332.67 319.60,1331.88 322.30,1332.00C325.27,1332.13 329.49,1335.16 331.60,1333.90C333.95,1332.50 333.75,1326.33 335.00,1322.70C336.22,1319.17 338.09,1315.59 339.00,1312.40C339.75,1309.77 339.88,1308.54 340.40,1305.00C341.69,1296.20 343.59,1275.33 345.20,1258.70C347.08,1239.32 349.10,1216.94 350.90,1195.70C352.74,1173.99 354.51,1150.72 356.10,1129.80C357.55,1110.80 358.76,1092.75 360.10,1075.40C361.33,1059.47 362.49,1045.10 363.80,1029.60C365.15,1013.61 366.54,993.90 368.10,980.90C369.14,972.17 370.10,965.50 371.40,959.10C372.44,953.98 373.46,949.60 374.90,945.40C376.18,941.64 377.54,935.59 379.40,935.00C380.61,934.61 382.10,936.48 383.50,937.50C385.16,938.71 387.20,939.91 388.60,941.90C390.38,944.42 391.24,948.94 392.50,952.00C393.56,954.59 394.61,955.83 395.60,959.10C397.59,965.63 399.45,979.51 401.10,989.50C402.70,999.17 403.61,1009.14 405.40,1018.10C407.01,1026.20 409.43,1033.33 411.10,1041.00C412.76,1048.63 414.00,1056.11 415.40,1064.00C416.87,1072.32 417.95,1082.65 419.70,1089.70C420.97,1094.79 422.48,1102.54 424.00,1102.60C425.36,1102.66 426.79,1096.24 428.30,1092.60C430.09,1088.27 431.63,1082.68 434.00,1078.30C436.27,1074.11 440.20,1066.40 442.10,1066.80C444.23,1067.25 444.40,1077.39 445.50,1084.00C446.99,1092.90 448.42,1104.55 449.80,1115.50C451.30,1127.40 452.40,1143.35 454.10,1152.80C455.16,1158.70 456.33,1162.29 457.60,1167.00C458.87,1171.72 459.94,1180.83 461.70,1181.10C463.04,1181.30 465.22,1176.99 466.40,1174.00C468.02,1169.90 468.27,1163.86 469.10,1158.20C470.06,1151.68 470.89,1144.64 471.70,1137.10C472.64,1128.41 473.38,1118.05 474.30,1109.00C475.16,1100.52 476.10,1092.45 477.00,1084.40C477.87,1076.63 478.45,1068.40 479.60,1061.50C480.57,1055.72 481.22,1048.60 483.10,1045.70C484.07,1044.20 485.49,1042.96 486.60,1043.10C487.87,1043.26 489.17,1045.53 490.20,1047.50C491.75,1050.46 492.63,1055.21 493.70,1059.80C495.02,1065.48 496.18,1072.65 497.20,1079.10C498.22,1085.55 498.89,1092.20 499.80,1098.50C500.66,1104.49 501.57,1110.49 502.50,1116.00C503.34,1120.96 504.29,1125.02 505.10,1130.10C506.04,1136.02 506.42,1144.71 507.70,1149.40C508.48,1152.24 509.45,1153.45 510.50,1156.00C511.94,1159.50 513.97,1164.11 515.50,1168.50C517.15,1173.24 518.64,1178.62 520.00,1183.50C521.29,1188.11 522.62,1192.43 523.50,1197.00C524.39,1201.60 524.58,1206.20 525.30,1211.00C526.07,1216.12 527.03,1221.54 528.00,1226.80C528.97,1232.07 529.72,1238.44 531.10,1242.60C532.06,1245.51 533.41,1249.72 534.50,1249.70C535.58,1249.68 536.69,1245.67 537.60,1242.60C539.11,1237.50 539.99,1228.94 541.10,1221.50C542.34,1213.20 543.55,1203.75 544.60,1195.10C545.61,1186.76 546.40,1178.54 547.30,1170.50C548.17,1162.75 548.85,1154.79 549.90,1147.70C550.83,1141.44 552.01,1135.63 553.10,1130.10C554.08,1125.13 554.81,1120.25 556.10,1116.00C557.22,1112.33 558.74,1106.12 560.10,1106.00C561.09,1105.91 562.22,1108.64 563.10,1110.80C564.60,1114.46 565.50,1120.94 566.60,1126.60C567.86,1133.11 569.03,1140.98 570.10,1147.70C571.08,1153.83 571.74,1160.99 572.80,1165.30C573.44,1167.90 574.11,1171.38 574.90,1171.40C575.81,1171.42 576.96,1166.33 578.00,1163.50C579.19,1160.26 580.44,1157.07 581.60,1153.00C583.15,1147.55 584.73,1140.48 586.00,1133.60C587.42,1125.91 588.48,1117.21 589.50,1109.00C590.52,1100.81 591.26,1092.88 592.10,1084.40C593.00,1075.35 593.85,1065.87 594.70,1056.30C595.59,1046.32 596.34,1035.14 597.30,1025.70C598.13,1017.53 598.78,1010.04 600.00,1002.90C601.10,996.46 602.73,990.77 604.10,984.70C605.47,978.63 606.77,972.12 608.20,966.50C609.45,961.59 610.26,956.63 612.10,952.80C613.63,949.62 615.49,945.99 617.80,944.80C619.67,943.84 622.45,943.70 624.20,944.80C626.55,946.27 627.96,950.96 629.20,955.10C630.87,960.66 630.87,968.59 631.90,975.60C632.99,983.01 634.49,991.22 635.60,998.40C636.59,1004.80 637.47,1010.53 638.30,1016.60C639.13,1022.66 639.83,1028.24 640.60,1034.80C641.50,1042.49 642.25,1052.22 643.30,1059.90C644.19,1066.47 645.19,1072.25 646.30,1078.10C647.34,1083.59 648.31,1089.23 649.70,1094.00C650.88,1098.05 651.04,1103.08 653.80,1105.00C656.83,1107.10 664.78,1102.74 667.90,1105.00C671.10,1107.32 671.02,1114.24 672.50,1119.10C674.06,1124.25 675.60,1129.58 677.00,1135.10C678.48,1140.95 679.77,1147.23 681.10,1153.30C682.43,1159.36 683.70,1165.87 685.00,1171.50C686.13,1176.40 687.27,1180.63 688.40,1185.20C689.53,1189.77 690.47,1194.37 691.80,1198.90C693.14,1203.47 694.76,1207.79 696.40,1212.50C698.18,1217.62 699.92,1223.70 702.10,1228.50C704.02,1232.71 705.72,1238.27 708.50,1239.90C710.57,1241.11 713.69,1241.10 715.80,1239.90C718.65,1238.28 720.24,1232.03 722.60,1228.50C724.79,1225.24 726.93,1222.82 729.40,1219.40C732.51,1215.09 736.28,1204.59 739.70,1204.60C743.11,1204.61 746.38,1214.39 749.90,1219.40C753.57,1224.62 757.83,1229.82 761.30,1235.30C764.75,1240.75 767.59,1247.75 770.70,1252.20C772.98,1255.47 775.13,1260.20 777.50,1260.10C780.38,1259.98 784.33,1252.24 786.60,1247.60C788.96,1242.78 789.93,1237.44 791.20,1231.60C792.69,1224.74 793.40,1216.05 794.60,1208.90C795.68,1202.46 796.85,1196.69 798.00,1190.60C799.15,1184.52 800.17,1178.45 801.50,1172.40C802.84,1166.32 804.56,1160.62 806.00,1154.20C807.61,1147.04 809.04,1137.67 810.60,1131.40C811.72,1126.92 812.66,1124.10 814.00,1120.00C815.60,1115.10 817.55,1109.05 819.70,1104.00C821.74,1099.22 824.46,1095.18 826.50,1090.40C828.65,1085.35 830.52,1079.95 832.20,1074.40C833.97,1068.57 835.09,1062.24 836.80,1056.20C838.52,1050.11 840.54,1043.85 842.50,1038.00C844.35,1032.48 846.05,1027.05 848.20,1022.00C850.24,1017.22 852.83,1012.73 855.00,1008.40C856.98,1004.43 858.88,1001.02 860.70,997.00C862.66,992.66 864.81,987.17 866.30,983.20C867.41,980.25 867.88,978.11 869.00,975.40C870.28,972.28 872.05,967.85 873.70,965.60C874.77,964.14 875.95,962.32 877.00,962.50C878.46,962.75 879.83,967.49 881.10,970.30C882.52,973.43 883.74,978.04 885.00,980.50C885.78,982.03 886.45,982.90 887.30,984.00C888.15,985.10 889.28,985.50 890.10,987.10C891.76,990.34 892.50,998.30 893.70,1003.80C894.87,1009.17 895.87,1014.74 897.20,1019.70C898.40,1024.17 899.23,1029.34 901.20,1032.30C902.63,1034.45 904.67,1035.66 906.50,1036.80C908.12,1037.81 909.72,1038.66 911.50,1039.00C913.37,1039.36 915.50,1039.67 917.50,1038.80C920.34,1037.56 922.95,1032.38 926.00,1030.20C928.73,1028.25 931.95,1025.82 934.70,1026.00C937.37,1026.18 940.17,1028.79 942.30,1031.00C944.60,1033.39 945.85,1036.94 947.80,1040.10C949.95,1043.58 953.02,1047.23 954.70,1051.00C956.28,1054.55 956.81,1058.34 957.80,1062.00C958.78,1065.64 959.68,1069.26 960.60,1072.90C961.52,1076.56 962.18,1080.45 963.30,1083.90C964.34,1087.12 965.57,1090.19 967.00,1093.00C968.33,1095.63 969.90,1098.10 971.50,1100.30C972.95,1102.30 975.04,1103.45 976.10,1105.70C977.38,1108.41 976.27,1115.04 977.90,1115.80C979.29,1116.45 982.40,1111.80 984.30,1112.10C986.20,1112.40 988.47,1116.68 989.30,1117.60" fill="none" stroke="#00f" stroke-width="3.2" stroke-linejoin="round" stroke-linecap="round" stroke-dasharray="9 12"/>
</svg></body></html>
